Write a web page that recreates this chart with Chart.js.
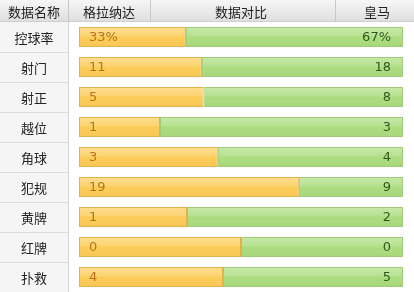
<!DOCTYPE html>
<html>
<head>
<meta charset="utf-8">
<script src="https://cdn.jsdelivr.net/npm/chart.js@4/dist/chart.umd.min.js"></script>
<style>
html,body{margin:0;padding:0;background:#fff;}
#wrap{width:414px;height:292px;position:relative;}
</style>
</head>
<body>
<div id="wrap"><canvas id="c" width="414" height="292"></canvas></div>
<script>
// ---- data ----
const headers = ['数据名称', '格拉纳达', '数据对比', '皇马'];
const categories = ['控球率', '射门', '射正', '越位', '角球', '犯规', '黄牌', '红牌', '扑救'];
const homeValues = [33, 11, 5, 1, 3, 19, 1, 0, 4];
const awayValues = [67, 18, 8, 3, 4, 9, 2, 0, 5];
const valueSuffix = ['%', '', '', '', '', '', '', '', ''];

// shares (percent of the bar) derived from the values
const homeShare = homeValues.map((h, i) => {
  const t = h + awayValues[i];
  return t === 0 ? 50 : h / t * 100;
});
const awayShare = homeShare.map(s => 100 - s);

const CJK = '"Noto Sans CJK SC", "Noto Sans", sans-serif';
const HEADER_H = 22;
const LEFT_COL = 68;

const framePlugin = {
  id: 'frame',
  beforeDraw(chart) {
    const ctx = chart.ctx;
    const W = chart.width, H = chart.height;
    ctx.save();
    // left column background
    ctx.fillStyle = '#f5f5f5';
    ctx.fillRect(0, HEADER_H, LEFT_COL, H - HEADER_H);
    // header gradient
    const g = ctx.createLinearGradient(0, 0, 0, HEADER_H);
    g.addColorStop(0, '#f6f6f6');
    g.addColorStop(1, '#dedede');
    ctx.fillStyle = g;
    ctx.fillRect(0, 0, W, HEADER_H);
    ctx.fillStyle = '#cfcfcf';
    ctx.fillRect(0, HEADER_H - 1, W, 1);
    // header separators
    ctx.fillStyle = '#c8c8c8';
    [LEFT_COL, 150, 335].forEach(x => ctx.fillRect(x, 0, 1, HEADER_H));
    // left column separator
    ctx.fillStyle = '#d4d4d4';
    ctx.fillRect(LEFT_COL, HEADER_H, 1, H - HEADER_H);
    // row separators in left column
    const yScale = chart.scales.y;
    ctx.fillStyle = '#dcdcdc';
    for (let i = 1; i < categories.length; i++) {
      const y = Math.round((yScale.getPixelForValue(i - 1) + yScale.getPixelForValue(i)) / 2);
      ctx.fillRect(0, y, LEFT_COL, 1);
    }
    // header text
    ctx.fillStyle = '#222';
    ctx.font = '13px ' + CJK;
    ctx.textAlign = 'center';
    ctx.textBaseline = 'middle';
    const hx = [34, 109, 241, 377];
    headers.forEach((t, i) => ctx.fillText(t, hx[i], HEADER_H / 2 + 1));
    // category labels
    categories.forEach((c, i) => {
      ctx.fillText(c, 34, yScale.getPixelForValue(i) + 1);
    });
    ctx.restore();
  },
  afterDatasetsDraw(chart) {
    const ctx = chart.ctx;
    ctx.save();
    // glossy highlight on bars
    chart.data.datasets.forEach((ds, di) => {
      chart.getDatasetMeta(di).data.forEach(bar => {
        const p = bar.getProps(['x', 'y', 'base', 'height'], true);
        const top = p.y - p.height / 2, bot = p.y + p.height / 2;
        const left = Math.min(p.x, p.base), right = Math.max(p.x, p.base);
        const g = ctx.createLinearGradient(0, top, 0, bot);
        g.addColorStop(0, 'rgba(255,255,255,0.35)');
        g.addColorStop(0.45, 'rgba(255,255,255,0.15)');
        g.addColorStop(0.5, 'rgba(255,255,255,0)');
        g.addColorStop(1, 'rgba(0,0,0,0.03)');
        ctx.fillStyle = g;
        ctx.fillRect(left + 1, top + 1, right - left - 2, bot - top - 2);
      });
    });
    // value labels
    ctx.font = '13px "DejaVu Sans", sans-serif';
    ctx.textBaseline = 'middle';
    const m0 = chart.getDatasetMeta(0).data;
    const m1 = chart.getDatasetMeta(1).data;
    categories.forEach((c, i) => {
      const b0 = m0[i].getProps(['x', 'y', 'base'], true);
      const b1 = m1[i].getProps(['x', 'y', 'base'], true);
      ctx.textAlign = 'left';
      ctx.fillStyle = '#b9721a';
      ctx.fillText(homeValues[i] + valueSuffix[i], b0.base + 10, b0.y + 1);
      ctx.textAlign = 'right';
      ctx.fillStyle = '#2f5a1e';
      ctx.fillText(awayValues[i] + valueSuffix[i], b1.x - 12, b1.y + 1);
    });
    ctx.restore();
  }
};

new Chart(document.getElementById('c'), {
  type: 'bar',
  data: {
    labels: categories,
    datasets: [
      {
        label: headers[1],
        data: homeShare,
        backgroundColor: '#fccc58',
        borderColor: '#e2b24f',
        borderWidth: 1,
        borderSkipped: false,
        barPercentage: 1,
        categoryPercentage: 0.667
      },
      {
        label: headers[3],
        data: awayShare,
        backgroundColor: '#abdc7e',
        borderColor: '#a1c97a',
        borderWidth: 1,
        borderSkipped: false,
        barPercentage: 1,
        categoryPercentage: 0.667
      }
    ]
  },
  options: {
    indexAxis: 'y',
    responsive: false,
    animation: false,
    layout: { padding: { left: 79, right: 11, top: HEADER_H, bottom: 0 } },
    plugins: { legend: { display: false }, tooltip: { enabled: false } },
    scales: {
      x: { stacked: true, min: 0, max: 100, display: false },
      y: { stacked: true, display: false }
    }
  },
  plugins: [framePlugin]
});
</script>
</body>
</html>
